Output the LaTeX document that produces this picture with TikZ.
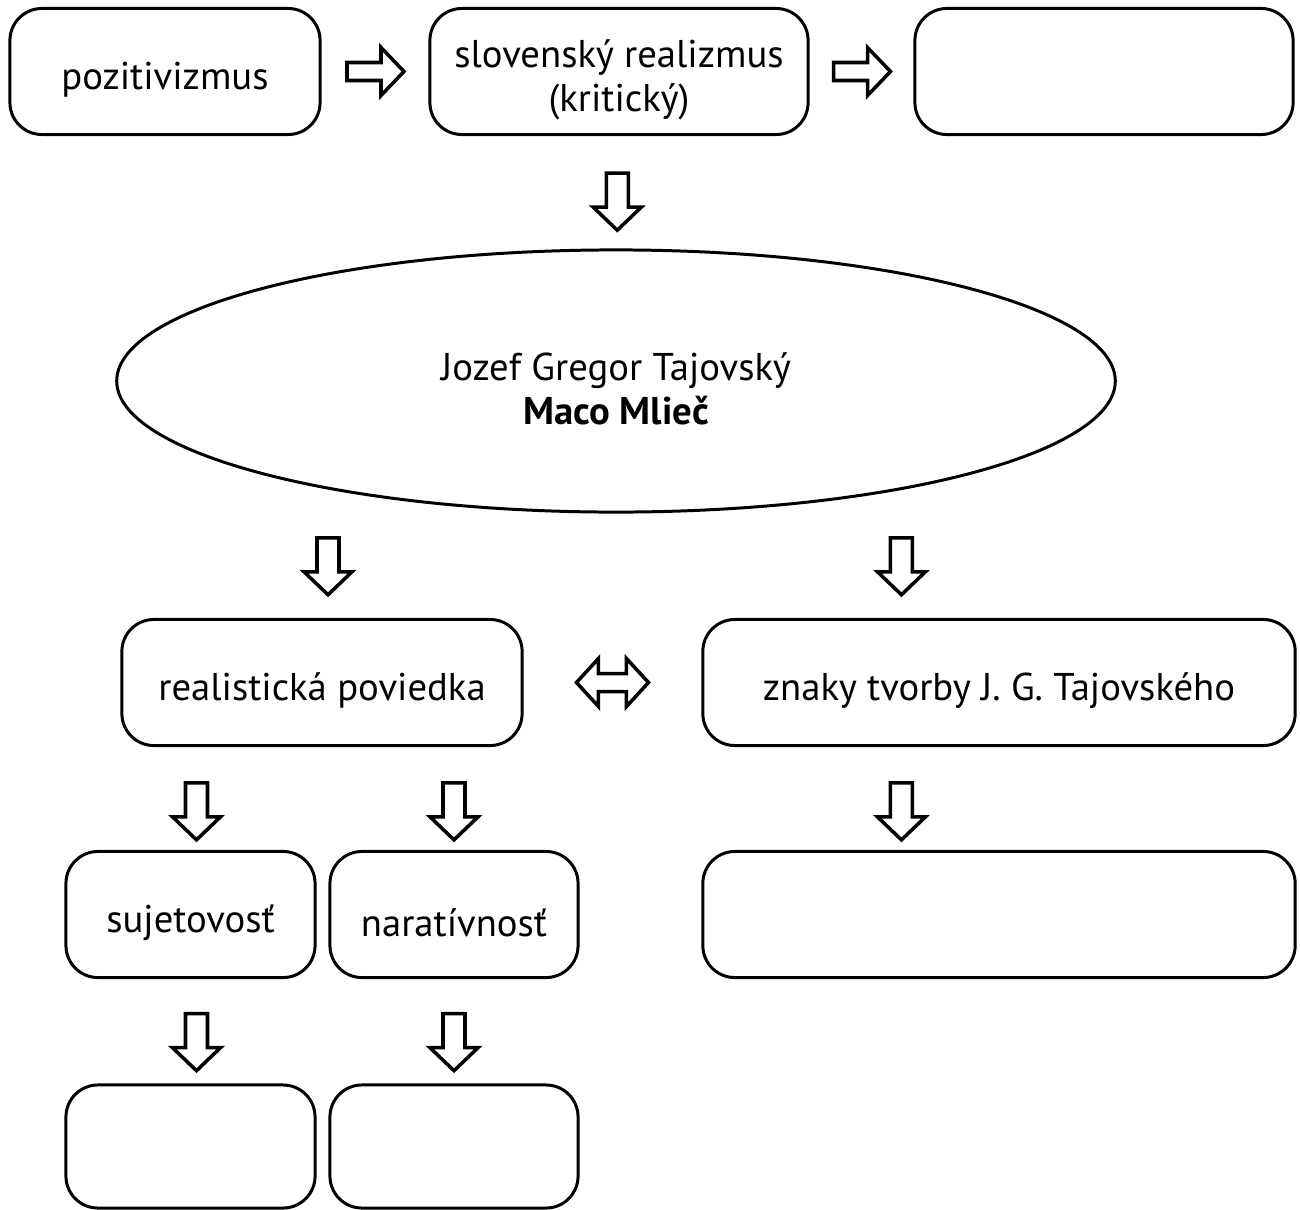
\documentclass[tikz,border=0pt]{standalone}
\usepackage{fontspec}
\setmainfont{PT Sans}
\usetikzlibrary{shapes.geometric,calc}

\newcommand\upstrut{\rule{0pt}{0.44cm}}

\tikzset{
  box/.style={draw, line width=0.85pt, rounded corners=0.32cm, align=center, inner sep=0pt, minimum height=1.26cm},
  arrowline/.style={draw, line width=1pt, fill=white, line join=miter},
  downarr/.pic={\path[arrowline] (-11,-28) -- (11,-28) -- (11,6) -- (24,6) -- (0,29) -- (-24,6) -- (-11,6) -- cycle;},
  rightarr/.pic={\path[arrowline] (-28,-9) -- (6,-9) -- (6,-24) -- (29,0) -- (6,24) -- (6,9) -- (-28,9) -- cycle;},
  botharr/.pic={\path[arrowline] (-14,-9) -- (14,-9) -- (14,-24) -- (36,0) -- (14,24) -- (14,9) -- (-14,9) -- (-14,24) -- (-36,0) -- (-14,-24) -- cycle;}
}

\begin{document}
\begin{tikzpicture}[x=0.01cm, y=-0.01cm, font=\fontsize{11}{12.6}\selectfont]
\useasboundingbox (0,0) rectangle (1300,1209);

% top row
\node[box, minimum width=3.10cm] (pozit) at (165,71.5) {\upstrut pozitivizmus};
\node[box, minimum width=3.78cm] (slovreal) at (619,71.5) {\upstrut slovenský realizmus\\(kritický)};
\node[box, minimum width=3.78cm] (topempty) at (1104,71.5) {};

% author and work
\node[draw, ellipse, line width=0.85pt, inner sep=0pt, align=center, minimum width=9.98cm, minimum height=2.62cm] (jgt) at (616,381)
  {\upstrut Jozef Gregor Tajovský\\\textbf{Maco Mlieč}};

% middle row
\node[box, minimum width=4.00cm] (poviedka) at (322,682.5) {\upstrut realistická poviedka};
\node[box, minimum width=5.92cm] (znaky) at (999,682.5) {\upstrut znaky tvorby J. G. Tajovského};

% lower rows
\node[box, minimum width=2.49cm] (sujet) at (190.5,914.5) {\upstrut sujetovosť};
\node[box, minimum width=2.48cm] (narat) at (454,914.5) {\upstrut naratívnosť};
\node[box, minimum width=5.92cm] (znakyempty) at (999,914.5) {};
\node[box, minimum width=2.49cm, minimum height=1.23cm] (sujetempty) at (190.5,1146.5) {};
\node[box, minimum width=2.48cm, minimum height=1.23cm] (naratempty) at (454,1146.5) {};

% block arrows
\pic at ($(pozit.east)!0.5!(slovreal.west)$) {rightarr};
\pic at ($(slovreal.east)!0.5!(topempty.west)$) {rightarr};
\pic at ($(slovreal.south)!0.58!(jgt.north)$) {downarr};
\coordinate (povtop) at ([xshift=0.06cm]poviedka.north);
\coordinate (znatop) at ([xshift=2.00cm]znaky.north west);
\pic at ($(povtop)!0.5!(povtop |- jgt.south)$) {downarr};
\pic at ($(znatop)!0.5!(znatop |- jgt.south)$) {downarr};
\pic at ($(poviedka.east)!0.5!(znaky.west)$) {botharr};
\pic at ($([xshift=0.06cm]sujet.north |- poviedka.south)!0.62!([xshift=0.06cm]sujet.north)$) {downarr};
\pic at ($(narat.north |- poviedka.south)!0.62!(narat.north)$) {downarr};
\coordinate (znabot) at ([xshift=2.00cm]znakyempty.north west);
\pic at ($(znabot |- znaky.south)!0.62!(znabot)$) {downarr};
\pic at ($([xshift=0.06cm]sujetempty.north |- sujet.south)!0.6!([xshift=0.06cm]sujetempty.north)$) {downarr};
\pic at ($(naratempty.north |- narat.south)!0.6!(naratempty.north)$) {downarr};
\end{tikzpicture}
\end{document}
